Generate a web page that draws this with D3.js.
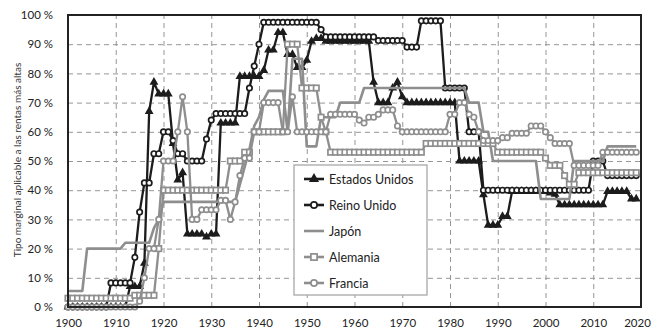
<!DOCTYPE html>
<html><head><meta charset="utf-8">
<script src="https://cdn.jsdelivr.net/npm/d3@7/dist/d3.min.js"></script>
<style>
body{margin:0;background:#fff;}
svg{display:block;font-family:Lato,"Open Sans",sans-serif;}
</style>
</head><body>
<svg id="c" width="651" height="330"></svg>
<script>
// ---- data (top marginal income tax rate, %, 1900-2019) ----
const firstYear = 1900, lastYear = 2019;
const years = d3.range(firstYear, lastYear + 1);

const estadosUnidos = [
  0,0,0,0,0,0,0,0,0,0,0,0,0,
  7,7,7,15,67,77,73,73,73,56,43.5,46,
  25,25,25,25,24,25,25,
  63,63,63,63,
  79,79,79,79,79,
  81,88,88,94,94,86.5,86.5,82,82,84.5,91,92,92,
  91,91,91,91,91,91,91,91,91,91,
  77,70,70,70,75,77,72,
  70,70,70,70,70,70,70,70,70,70,70,
  50,50,50,50,50,
  38.5,28,28,28,31,31,
  39.6,39.6,39.6,39.6,39.6,39.6,39.6,39.6,
  39.1,38.6,
  35,35,35,35,35,35,35,35,35,35,
  39.6,39.6,39.6,39.6,39.6,
  37,37
];
const reinoUnido = [
  0,0,0,0,0,0,0,0,0,
  8.25,8.25,8.25,8.25,8.25,
  17,32.5,42.5,42.5,52.5,52.5,60,60,57,52.5,52.5,
  50,50,50,50,
  57.5,64,
  66.25,66.25,66.25,66.25,66.25,66.25,66.25,
  75,82.5,90,
  97.5,97.5,97.5,97.5,97.5,97.5,97.5,97.5,97.5,97.5,97.5,97.5,
  95,
  92.5,92.5,92.5,92.5,92.5,92.5,92.5,92.5,92.5,92.5,92.5,
  91.25,91.25,91.25,91.25,91.25,91.25,
  89,89,89,
  98,98,98,98,98,
  75,75,75,75,75,
  60,60,60,
  40,40,40,40,40,40,40,40,40,40,40,40,40,40,40,40,40,40,40,40,40,40,40,
  50,50,50,
  45,45,45,45,45,45,45
];
const japon = [
  5.5,5.5,5.5,5.5,
  20,20,20,20,20,20,20,20,
  22,22,22,22,22,22,
  27,30,
  36,36,36,36,36,36,36,36,36,36,36,36,36,36,36,36,
  42,48,54,62,65,71,
  74,74,74,74,
  60,
  85,85,85,
  55,55,55,
  65,65,65,65,
  70,70,70,70,70,
  75,75,75,75,75,75,75,75,75,75,75,75,75,75,75,75,75,75,75,75,75,75,
  70,70,70,
  60,60,
  50,50,50,50,50,50,50,50,50,50,
  37,37,37,37,37,37,37,
  50,50,50,50,50,50,50,
  55,55,55,55,55,55,55
];
const alemania = [
  3,3,3,3,3,3,3,3,3,3,3,3,3,3,
  4,4,4,4,4,
  20,
  40,40,40,40,40,40,40,40,40,40,40,40,40,40,
  50,50,50,
  53,53,
  60,60,60,60,60,60,60,
  90,90,90,
  75,75,75,75,
  65,60,
  53,53,53,53,53,53,53,53,53,53,53,53,53,53,53,53,53,53,53,53,
  56,56,56,56,56,56,56,56,56,56,56,56,56,56,56,
  53,53,53,53,53,53,53,53,53,53,
  51,
  48.5,48.5,48.5,
  45,
  42,42,
  46,46,46,46,46,46,46,46,46,46,46,46,46
];
const francia = [
  0,0,0,0,0,0,0,0,0,0,0,0,0,0,0,
  2,10,20,20,30,
  50,50,50,
  60,72,60,30,30,
  33.3,33.3,33.3,33.3,
  36.5,36.5,30,36,45,51,51,
  60,60,
  70,70,70,70,60,
  60,72,
  60,60,60,60,60,60,60,
  66,66,66,66,66,66,
  64,63,65,65,66,67.5,67.5,67.5,62,
  60,60,60,60,60,60,60,60,60,60,
  66,66,70,70,66,65,60,
  57,57,57,57,
  58,58,
  59.5,59.5,59.5,59.5,
  62,62,62,
  60,58,56,
  56,56,56,
  48.5,48.5,48.5,48.5,48.5,48.5,
  53,53,53,53,53,53,53,53
];

const seriesNames = ["Estados Unidos","Reino Unido","Japón","Alemania","Francia"];
const xTicks = [1900,1910,1920,1930,1940,1950,1960,1970,1980,1990,2000,2010,2020];
const yTicks = [0,10,20,30,40,50,60,70,80,90,100];
const yTitle = "Tipo marginal aplicable a las rentas más altas";

// ---- drawing ----
const BLACK = "#1c1c1c", GRAY = "#8e8e8e";
const svg = d3.select("#c");
const x = d3.scaleLinear().domain([1900, 2020]).range([68, 641]);
const y = d3.scaleLinear().domain([0, 100]).range([307, 15]);

// grid
const grid = svg.append("g");
grid.append("g").attr("transform","translate(0,307)")
  .call(d3.axisBottom(x).tickValues(xTicks.slice(1,-1)).tickSize(-292).tickFormat(""))
  .call(g => g.select(".domain").remove())
  .selectAll("line").attr("stroke","#959595").attr("stroke-width",1).attr("stroke-dasharray","5,4");
grid.append("g").attr("transform","translate(68,0)")
  .call(d3.axisLeft(y).tickValues(yTicks.slice(1,-1)).tickSize(-573).tickFormat(""))
  .call(g => g.select(".domain").remove())
  .selectAll("line").attr("stroke","#959595").attr("stroke-width",1).attr("stroke-dasharray","5,4");

// axis labels
const ax = svg.append("g").attr("transform","translate(0,307)")
  .call(d3.axisBottom(x).tickValues(xTicks).tickSize(0).tickPadding(12).tickFormat(d3.format("d")));
ax.select(".domain").remove();
ax.selectAll("text").attr("font-size",11.5).attr("fill","#222").attr("font-family","Lato,sans-serif")
  .attr("dx", d => d === 2020 ? -4 : 0);
const ay = svg.append("g").attr("transform","translate(68,0)")
  .call(d3.axisLeft(y).tickValues(yTicks).tickSize(0).tickPadding(15).tickFormat(d => d + " %"));
ay.select(".domain").remove();
ay.selectAll("text").attr("font-size",11.5).attr("fill","#222").attr("font-family","Lato,sans-serif");

svg.append("text").attr("transform","translate(17,160) rotate(-90)")
  .attr("text-anchor","middle").attr("dominant-baseline","central")
  .attr("font-size",10).attr("fill","#333").text(yTitle);

const series = [
  {name: seriesNames[0], values: estadosUnidos, color: BLACK, marker: "tri"},
  {name: seriesNames[1], values: reinoUnido, color: BLACK, marker: "circle"},
  {name: seriesNames[2], values: japon, color: GRAY, marker: "none"},
  {name: seriesNames[3], values: alemania, color: GRAY, marker: "square"},
  {name: seriesNames[4], values: francia, color: GRAY, marker: "circle"}
];

const line = d3.line().x(d => x(d[0])).y(d => y(d[1]));

function drawMarker(g, s, px, py, big) {
  const k = big ? 1.15 : 1;
  if (s.marker === "tri") {
    g.append("path").attr("d", d3.symbol().type(d3.symbolTriangle).size(34*k*k)())
      .attr("transform",`translate(${px},${py})`).attr("fill", s.color);
  } else if (s.marker === "circle") {
    g.append("circle").attr("cx",px).attr("cy",py).attr("r",2.7*k)
      .attr("fill","#fff").attr("stroke",s.color).attr("stroke-width",1.7);
  } else if (s.marker === "square") {
    g.append("rect").attr("x",px-2.7*k).attr("y",py-2.7*k).attr("width",5.4*k).attr("height",5.4*k)
      .attr("fill","#fff").attr("stroke",s.color).attr("stroke-width",1.7);
  }
}

const plot = svg.append("g");
series.forEach(s => {
  const pts = years.map((yr,i) => [yr, s.values[i]]);
  const g = plot.append("g");
  g.append("path").datum(pts).attr("d", line).attr("fill","none")
    .attr("stroke", s.color).attr("stroke-width", s.marker === "none" ? 2.6 : 2.3).attr("stroke-linejoin","round");
  pts.forEach(p => drawMarker(g, s, x(p[0]), y(p[1]), false));
});

// frame
svg.append("rect").attr("x",68).attr("y",15).attr("width",573).attr("height",292)
  .attr("fill","none").attr("stroke","#222").attr("stroke-width",2);

// legend
const lg = svg.append("g");
lg.append("rect").attr("x",294).attr("y",165).attr("width",133).attr("height",130)
  .attr("fill","#fff").attr("stroke","#a8a8a8").attr("stroke-width",1.3);
series.forEach((s,i) => {
  const ly = 179 + i*26;
  lg.append("line").attr("x1",304).attr("x2",324).attr("y1",ly).attr("y2",ly)
    .attr("stroke",s.color).attr("stroke-width", 2.6);
  drawMarker(lg, s, 314, ly, true);
  lg.append("text").attr("x",329).attr("y",ly).attr("dominant-baseline","central")
    .attr("font-size",12.5).attr("fill","#222").text(s.name);
});
</script>
</body></html>
